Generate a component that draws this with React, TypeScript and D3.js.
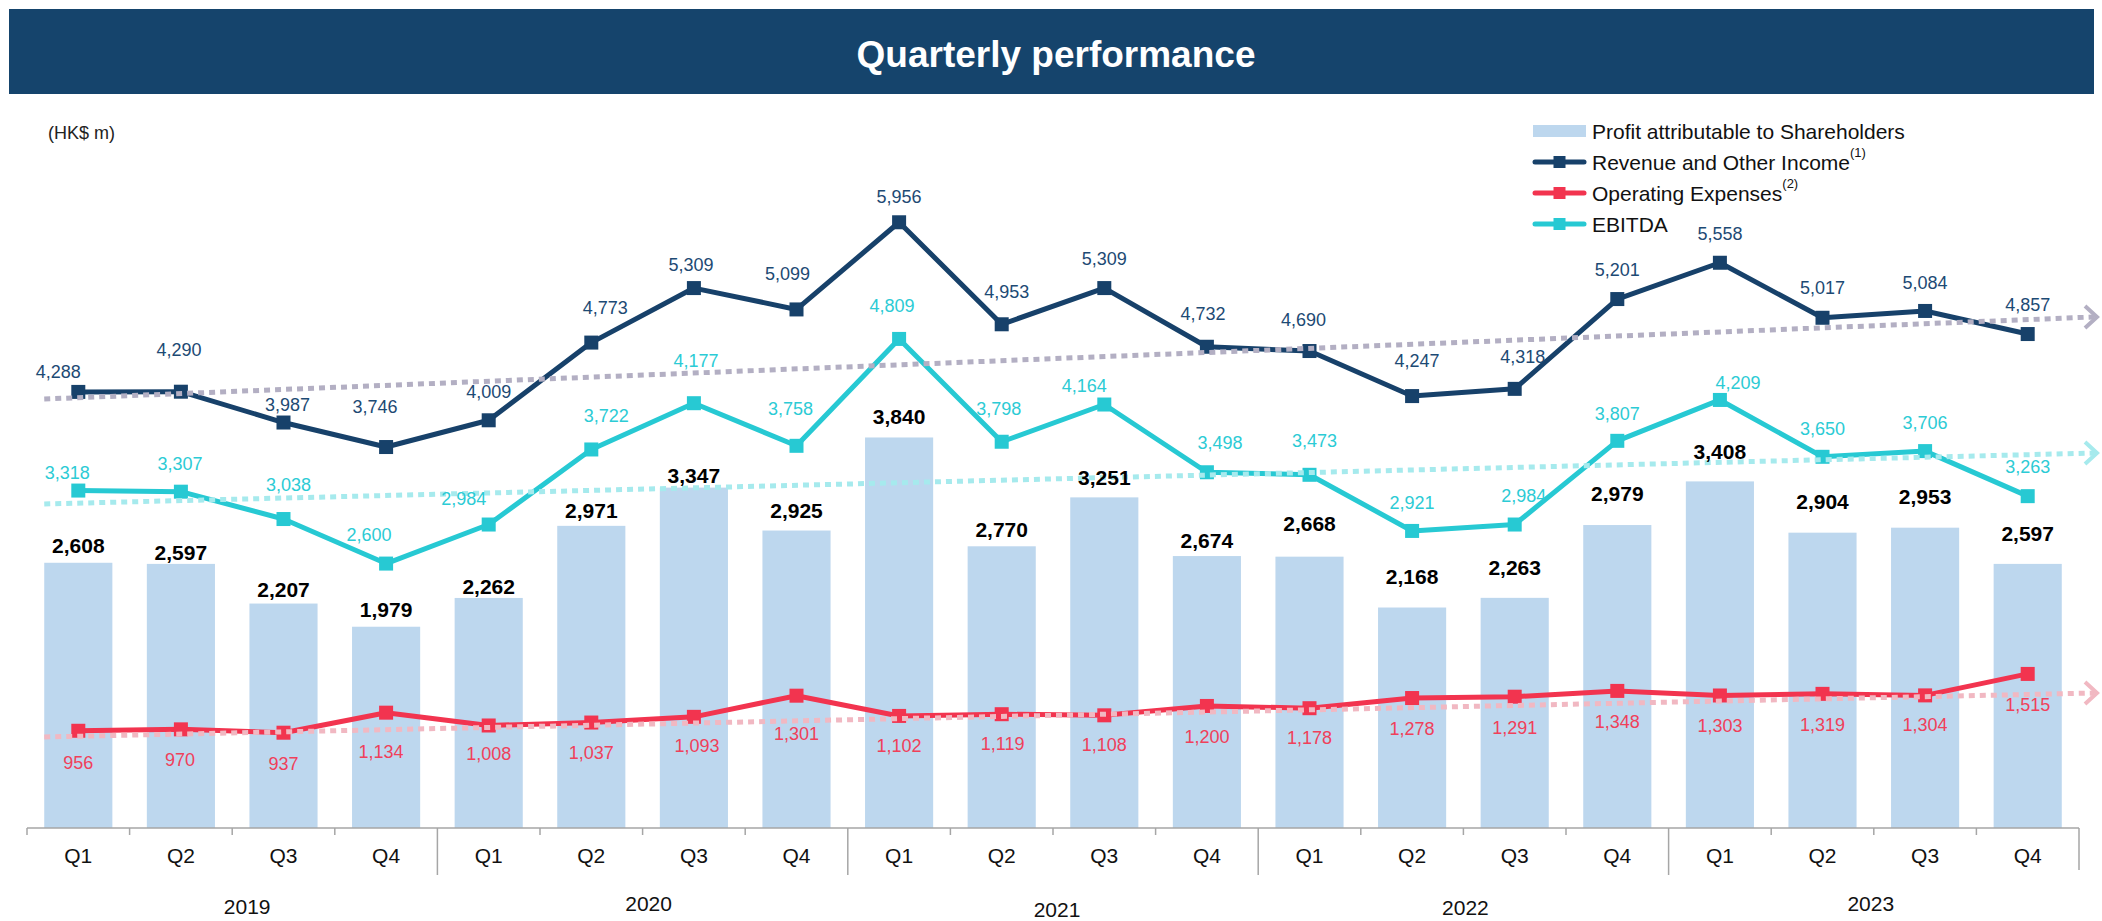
import React from 'react';
import * as d3 from 'd3';

// ---- data (HK$ m) ----
const years = ['2019', '2020', '2021', '2022', '2023'];
const quarterLabels = ['Q1', 'Q2', 'Q3', 'Q4'];

const profit = [2608, 2597, 2207, 1979, 2262, 2971, 3347, 2925, 3840, 2770, 3251, 2674, 2668, 2168, 2263, 2979, 3408, 2904, 2953, 2597];
const revenue = [4288, 4290, 3987, 3746, 4009, 4773, 5309, 5099, 5956, 4953, 5309, 4732, 4690, 4247, 4318, 5201, 5558, 5017, 5084, 4857];
const opex = [956, 970, 937, 1134, 1008, 1037, 1093, 1301, 1102, 1119, 1108, 1200, 1178, 1278, 1291, 1348, 1303, 1319, 1304, 1515];
const ebitda = [3318, 3307, 3038, 2600, 2984, 3722, 4177, 3758, 4809, 3798, 4164, 3498, 3473, 2921, 2984, 3807, 4209, 3650, 3706, 3263];

// trend arrows: value at start, value at end
const revenueTrend = [4218, 5025];
const ebitdaTrend = [3186, 3687];
const opexTrend = [895, 1327];

// ---- label nudges (layout only) ----
const barLabelGap = [17, 11, 14, 17, 11.5, 15, 12, 20, 21, 16.5, 20, 16, 33, 31, 30, 32, 30, 31, 31, 30];
const revLabelGap = [20, 42, 18, 40, 28, 35, 23, 35, 25, 32, 29, 33, 31, 35, 32, 29, 29, 30, 28, 29];
const revLabelDx = [-20, -2, 4, -11, 0, 14, -3, -9, 0, 5, 0, -4, -6, 5, 8, 0, 0, 0, 0, 0];
const ebLabelGap = [18, 28, 34, 29, 26, 33, 42, 37, 33, 32.5, 19, 29, 34, 28, 29, 27, 17, 28, 28, 29];
const ebLabelDx = [-11, -1, 5, -17, -25, 15, 2, -6, -7, -3, -20, 13, 5, 0, 9, 0, 18, 0, 0, 0];
const opLabelGap = [32, 31, 31, 39, 29, 30.5, 29, 38, 30, 30, 30, 31, 30, 31, 31, 31, 31, 31, 30, 31];
const opLabelDx = [0, -1, 0, -5, 0, 0, 3, 0, 0, 1, 0, 0, 0, 0, 0, 0, 0, 0, 0, 0];
const yearLabelDx = [15, 6, 4, 2, -3];
const yearLabelY = [906, 903, 909, 907, 903];

const FONT = '"Liberation Sans", Arial, sans-serif';
const C = {
  title: '#15446c',
  bar: '#bdd7ee',
  revenue: '#17416a',
  opex: '#f2344f',
  ebitda: '#27c9d3',
  revTrend: '#b3afc3',
  ebTrend: '#a6eaed',
  opTrend: '#f1b8c2',
  axis: '#a6a6a6',
};

const fmt = d3.format(',');

const App = () => {
  const width = 2102;
  const height = 921;
  const baseY = 828;

  const idx = d3.range(profit.length);
  const x = d3.scaleBand<number>().domain(idx).range([27, 2079]).paddingInner(0.336).paddingOuter(0.168);
  const y = d3.scaleLinear().domain([0, 6000]).range([baseY, baseY - 6000 * 0.1017]);
  const cx = (i: number) => (x(i) as number) + x.bandwidth() / 2;
  const step = x.step();
  const x0 = x.range()[0];

  const line = d3.line<number>().x((_, i) => cx(i)).y((d) => y(d));

  const trendX0 = x(0) as number;
  const trendX1 = 2097;

  const series = [
    { values: revenue, color: C.revenue, gap: revLabelGap, dx: revLabelDx, below: false },
    { values: opex, color: C.opex, gap: opLabelGap, dx: opLabelDx, below: true },
    { values: ebitda, color: C.ebitda, gap: ebLabelGap, dx: ebLabelDx, below: false },
  ];
  const labelColors = ['#1d4a74', '#f0405a', '#2ccbd5'];

  const trends = [
    { v: revenueTrend, color: C.revTrend },
    { v: ebitdaTrend, color: C.ebTrend },
    { v: opexTrend, color: C.opTrend },
  ];

  const boundaries = d3.range(profit.length + 1).map((i) => x0 + i * step);

  const legendX = 1533;
  const legendRows = [131, 162, 193, 224];

  return (
    <svg width={width} height={height} style={{ position: 'absolute', left: 0, top: 0, fontFamily: FONT }}>
      <rect width={width} height={height} fill="#fff" />

      {/* title bar */}
      <rect x={9} y={9} width={2085} height={85} fill={C.title} />
      <text x={1056} y={54} fill="#fff" fontSize={37} fontWeight="bold" textAnchor="middle" dominantBaseline="central">
        Quarterly performance
      </text>
      <text x={48} y={133} fontSize={18} fill="#222" dominantBaseline="central">(HK$ m)</text>

      {/* bars */}
      {profit.map((v, i) => (
        <rect key={'b' + i} x={x(i)} y={y(v)} width={x.bandwidth()} height={baseY - y(v)} fill={C.bar} />
      ))}

      {/* axis */}
      <line x1={x0} x2={boundaries[boundaries.length - 1]} y1={baseY} y2={baseY} stroke={C.axis} strokeWidth={1.5} />
      {boundaries.map((b, i) => {
        const yearSep = i > 0 && i < boundaries.length - 1 && i % 4 === 0;
        const end = i === boundaries.length - 1;
        const len = yearSep ? 47 : end ? 42 : 7;
        return <line key={'t' + i} x1={b} x2={b} y1={baseY} y2={baseY + len} stroke={C.axis} strokeWidth={1.5} />;
      })}
      {idx.map((i) => (
        <text key={'q' + i} x={cx(i)} y={855} fontSize={21} textAnchor="middle" dominantBaseline="central" fill="#111">
          {quarterLabels[i % 4]}
        </text>
      ))}
      {years.map((yr, k) => {
        const mid = (cx(k * 4) + cx(k * 4 + 3)) / 2;
        return (
          <text key={yr} x={mid + yearLabelDx[k]} y={yearLabelY[k]} fontSize={21} textAnchor="middle" dominantBaseline="central" fill="#111">
            {yr}
          </text>
        );
      })}

      {/* series lines */}
      {series.map((s, k) => (
        <g key={'s' + k}>
          <path d={line(s.values) || ''} fill="none" stroke={s.color} strokeWidth={5} strokeLinejoin="round" />
          {s.values.map((v, i) => (
            <rect key={i} x={cx(i) - 7} y={y(v) - 7} width={14} height={14} fill={s.color} />
          ))}
        </g>
      ))}

      {/* trend arrows */}
      {trends.map((t, k) => {
        const ya = y(t.v[0]);
        const yb = y(t.v[1]);
        return (
          <g key={'tr' + k}>
            <line x1={trendX0} y1={ya} x2={trendX1 - 3} y2={yb} stroke={t.color} strokeWidth={5} strokeDasharray="6 5" />
            <path
              d={`M${trendX1 - 12},${yb - 11} L${trendX1},${yb} L${trendX1 - 12},${yb + 11}`}
              fill="none"
              stroke={t.color}
              strokeWidth={4}
            />
          </g>
        );
      })}

      {/* bar labels */}
      {profit.map((v, i) => (
        <text key={'bl' + i} x={cx(i)} y={y(v) - barLabelGap[i]} fontSize={21} fontWeight="bold" textAnchor="middle" dominantBaseline="central" fill="#000">
          {fmt(v)}
        </text>
      ))}

      {/* series labels */}
      {series.map((s, k) =>
        s.values.map((v, i) => (
          <text
            key={'sl' + k + '-' + i}
            x={cx(i) + s.dx[i]}
            y={y(v) + (s.below ? s.gap[i] : -s.gap[i])}
            fontSize={18}
            textAnchor="middle"
            dominantBaseline="central"
            fill={labelColors[k]}
          >
            {fmt(v)}
          </text>
        ))
      )}

      {/* legend */}
      <g fontSize={21} fill="#111">
        <rect x={legendX} y={legendRows[0] - 6} width={53} height={12} fill={C.bar} />
        <text x={1592} y={legendRows[0]} dominantBaseline="central">Profit attributable to Shareholders</text>
        {[
          { color: C.revenue, label: 'Revenue and Other Income', sup: '(1)' },
          { color: C.opex, label: 'Operating Expenses', sup: '(2)' },
          { color: C.ebitda, label: 'EBITDA', sup: '' },
        ].map((l, k) => {
          const ry = legendRows[k + 1];
          return (
            <g key={'lg' + k}>
              <line x1={legendX + 2} x2={legendX + 51} y1={ry} y2={ry} stroke={l.color} strokeWidth={5} strokeLinecap="round" />
              <rect x={legendX + 20.5} y={ry - 6} width={12} height={12} fill={l.color} />
              <text x={1592} y={ry} dominantBaseline="central">
                {l.label}
                {l.sup && (
                  <tspan fontSize={13} dy={-10}>
                    {l.sup}
                  </tspan>
                )}
              </text>
            </g>
          );
        })}
      </g>
    </svg>
  );
};

export default App;
